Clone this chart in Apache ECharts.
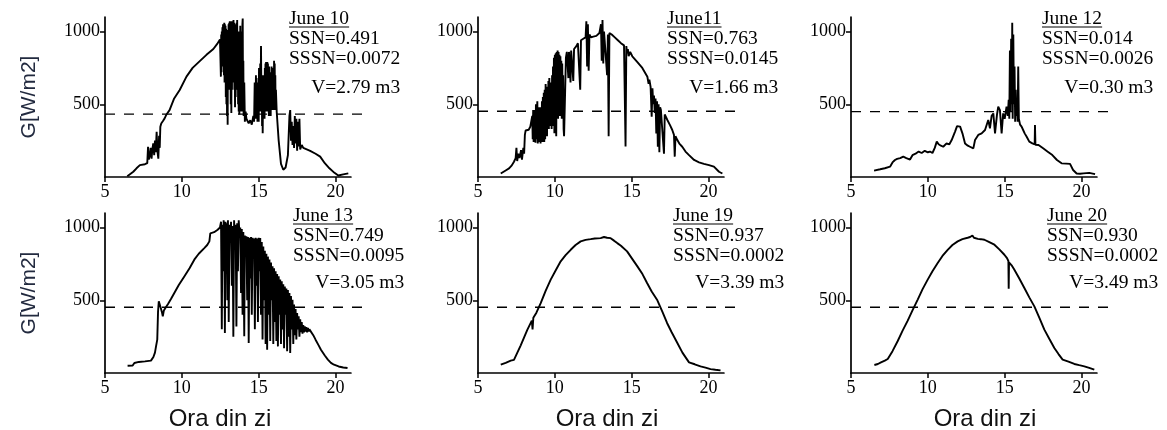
<!DOCTYPE html>
<html><head><meta charset="utf-8">
<script src="https://cdn.jsdelivr.net/npm/echarts@6/dist/echarts.min.js"></script>
<style>html,body{margin:0;padding:0;background:#fff}#c{width:1167px;height:430px}</style>
</head><body><div id="c"></div>
<script>
// ---------------- DATA ----------------
const dates = ['June 10', 'June11', 'June 12', 'June 13', 'June 19', 'June 20'];
const ssnText = ['SSN=0.491', 'SSN=0.763', 'SSN=0.014', 'SSN=0.749', 'SSN=0.937', 'SSN=0.930'];
const sssnText = ['SSSN=0.0072', 'SSSN=0.0145', 'SSSN=0.0026', 'SSSN=0.0095', 'SSSN=0.0002', 'SSSN=0.0002'];
const volText = ['V=2.79 m3', 'V=1.66 m3', 'V=0.30 m3', 'V=3.05 m3', 'V=3.39 m3', 'V=3.49 m3'];
const xTicks = [5, 10, 15, 20];
const yTicks = [500, 1000];
const xName = 'Ora din zi';
const yName = 'G[W/m2]';
const thresholds = [432, 452, 450, 452, 452, 452];

const june10 = [[6.45,5],[6.52,14],[6.84,36],[7.05,60],[7.27,82],[7.6,88],[7.75,95],[7.8,208],[7.85,120],[7.92,150],[7.97,200],[8.03,126],[8.08,190],[8.14,231],[8.2,150],[8.25,250],[8.3,170],[8.36,311],[8.41,180],[8.47,126],[8.52,283],[8.56,200],[8.6,345],[8.66,368],[8.77,385],[8.88,403],[9.0,430],[9.2,460],[9.5,540],[9.86,598],[10.3,690],[10.7,750],[11.2,800],[11.6,840],[12.05,880],[12.3,915],[12.48,945],
[12.52,950],[12.54,690],[12.56,980],[12.58,720],[12.6,1000],[12.62,760],[12.64,1030],[12.66,800],[12.68,1050],[12.7,820],[12.72,1040],[12.74,700],[12.76,1060],[12.78,650],[12.8,1050],[12.82,700],[12.84,1040],[12.86,550],[12.88,1020],[12.9,500],[12.92,1010],[12.94,420],[12.96,1000],[12.98,360],[13.0,990],[13.02,600],[13.04,1050],[13.06,600],[13.08,1060],[13.1,700],[13.12,1070],[13.14,750],[13.16,1060],[13.18,500],[13.2,1070],[13.22,440],[13.24,1000],[13.26,600],[13.28,1040],[13.3,650],[13.32,1070],[13.34,700],[13.36,1080],[13.38,800],[13.4,1060],[13.42,600],[13.44,1050],[13.46,480],[13.48,1000],[13.5,550],[13.52,950],[13.54,700],[13.56,1060],[13.58,650],[13.6,1080],[13.62,600],[13.64,1000],[13.66,500],[13.68,950],[13.7,450],[13.72,900],[13.74,430],[13.76,1000],[13.78,480],[13.8,1040],[13.82,500],[13.84,950],[13.86,450],[13.88,850],[13.9,1000],[13.92,450],[13.94,1050],[13.96,1090],[13.98,500],[14.0,800],[14.02,420],[14.06,650],[14.1,380],[14.15,450],[14.2,400],
[14.25,400],[14.35,370],[14.45,390],[14.55,360],[14.65,420],[14.7,380],[14.72,380],[14.74,650],[14.76,420],[14.78,600],[14.8,400],[14.82,700],[14.84,450],[14.86,680],[14.88,400],[14.9,620],[14.92,380],[14.94,600],[14.96,420],[14.98,650],[15.0,380],[15.02,750],[15.04,450],[15.06,700],[15.08,500],[15.1,780],[15.12,450],[15.15,900],[15.18,500],[15.2,700],[15.22,350],[15.24,650],[15.26,300],[15.28,600],[15.3,420],[15.32,700],[15.34,450],[15.36,650],[15.38,400],[15.4,750],[15.42,500],[15.44,780],[15.46,450],[15.48,790],[15.5,500],[15.52,780],[15.54,550],[15.56,790],[15.58,450],[15.6,780],[15.62,500],[15.64,700],[15.66,420],[15.68,760],[15.7,550],[15.72,720],[15.74,500],[15.76,700],[15.78,420],[15.8,680],[15.82,460],[15.84,760],[15.86,500],[15.88,720],[15.9,460],[15.92,700],[15.94,480],[15.96,750],[15.98,460],[16.0,800],[16.02,480],[16.04,780],[16.06,500],[16.08,700],[16.1,460],[16.12,600],[16.17,450],
[16.3,250],[16.45,90],[16.6,50],[16.75,65],[16.9,150],[17.0,420],[17.05,460],[17.1,250],[17.15,380],[17.2,220],[17.25,350],[17.3,200],[17.35,420],[17.4,230],[17.45,400],[17.5,180],[17.55,380],[17.6,210],[17.65,400],[17.7,190],[17.8,220],[17.9,200],[18.0,200],[18.35,180],[18.7,160],[19.0,140],[19.3,95],[19.6,60],[19.86,35],[20.18,10],[20.5,18],[20.83,25]];

const june11 = [[6.48,24],[6.8,45],[7.02,59],[7.2,80],[7.34,105],[7.45,130],[7.5,200],[7.55,110],[7.62,160],[7.7,130],[7.8,185],[7.86,120],[7.95,200],[8.0,160],[8.05,290],[8.1,320],[8.2,330],[8.3,325],[8.4,345],[8.5,335],
[8.53,420],[8.56,260],[8.59,460],[8.62,240],[8.65,430],[8.68,250],[8.71,460],[8.74,235],[8.77,500],[8.8,260],[8.83,430],[8.86,520],[8.89,230],[8.92,450],[8.95,260],[8.98,480],[9.01,240],[9.04,420],[9.07,230],[9.1,480],[9.13,260],[9.16,520],[9.19,240],[9.22,550],[9.25,250],[9.28,580],[9.31,240],[9.34,600],[9.37,260],[9.4,640],[9.43,300],[9.46,560],[9.49,280],[9.52,620],[9.55,350],[9.58,660],[9.61,330],[9.64,680],[9.67,380],[9.7,600],[9.73,350],[9.76,650],[9.79,330],[9.82,700],[9.85,400],[9.88,760],[9.91,350],[9.94,820],[9.97,300],[10.0,840],[10.03,400],[10.06,850],[10.09,280],[10.12,860],[10.15,450],[10.18,870],[10.21,400],[10.24,860],[10.27,500],[10.3,840],[10.33,420],[10.36,830],[10.39,480],[10.42,800],[10.45,400],[10.48,780],[10.51,460],[10.54,700],[10.57,330],[10.6,280],[10.64,290],
[10.72,820],[10.78,860],[10.84,870],[10.88,680],[10.92,860],[10.98,870],[11.02,650],[11.06,870],[11.15,880],[11.2,660],[11.25,880],[11.4,900],[11.5,920],[11.6,930],[11.65,600],[11.7,940],[11.85,950],[12.0,960],[12.05,1070],[12.1,760],[12.15,1050],[12.2,730],[12.25,980],[12.35,960],[12.5,965],[12.7,970],[12.9,990],[13.0,1050],[13.05,800],[13.1,1080],[13.15,780],[13.2,1000],[13.3,990],[13.4,700],[13.45,980],[13.5,280],[13.55,990],[13.7,980],[13.9,960],[14.1,940],[14.3,920],[14.5,905],[14.6,210],[14.65,900],[14.7,850],[14.75,880],[14.8,830],[14.9,860],[15.04,830],[15.37,790],[15.69,750],[16.02,689],[16.1,640],[16.15,670],[16.23,620],[16.3,414],[16.35,610],[16.4,500],[16.45,560],[16.5,440],[16.55,540],[16.6,300],[16.65,520],[16.7,208],[16.75,500],[16.8,170],[16.85,480],[16.9,460],[16.99,460],[17.1,160],[17.15,430],[17.32,392],[17.5,355],[17.64,323],[17.75,290],[17.8,140],[17.85,280],[17.97,254],[18.1,230],[18.29,208],[18.5,175],[18.73,150],[19.06,117],[19.38,101],[19.7,90],[20.03,82],[20.35,71],[20.68,36],[20.9,24]];

const june12 = [[6.5,44],[6.9,53],[7.2,60],[7.54,71],[7.7,100],[7.86,117],[8.0,125],[8.2,130],[8.4,140],[8.6,130],[8.84,120],[9.0,150],[9.2,160],[9.4,175],[9.6,165],[9.8,180],[10.0,170],[10.14,175],[10.3,165],[10.45,200],[10.58,243],[10.7,225],[10.85,215],[11.0,208],[11.2,230],[11.4,225],[11.55,254],[11.77,312],[11.9,350],[11.98,357],[12.1,346],[12.25,300],[12.42,231],[12.6,215],[12.74,208],[12.96,197],[13.07,254],[13.28,289],[13.5,300],[13.72,323],[13.93,392],[14.04,335],[14.15,420],[14.26,437],[14.37,300],[14.5,430],[14.58,483],[14.69,460],[14.8,300],[14.9,437],[15.0,400],[15.12,483],[15.2,420],[15.26,530],[15.3,400],[15.34,870],[15.38,450],[15.42,950],[15.46,500],[15.49,1060],[15.52,400],[15.56,980],[15.6,500],[15.64,760],[15.68,380],[15.72,600],[15.76,420],[15.8,540],[15.84,380],[15.88,760],[15.92,400],[16.0,360],[16.1,346],[16.2,323],[16.3,300],[16.43,277],[16.6,243],[16.8,231],[16.95,225],[16.97,357],[17.0,222],[17.2,220],[17.5,197],[17.8,174],[18.1,151],[18.4,117],[18.7,94],[19.0,92],[19.25,90],[19.45,48],[19.68,24],[19.9,22],[20.12,25],[20.5,28],[20.88,20]];

const june13 = [[6.47,50],[6.8,52],[6.91,69],[7.2,76],[7.6,80],[7.99,85],[8.15,110],[8.25,140],[8.32,183],[8.4,229],[8.45,420],[8.5,493],[8.56,480],[8.62,450],[8.7,420],[8.76,389],[8.83,430],[8.95,450],[9.1,475],[9.3,510],[9.51,550],[9.8,605],[10.16,664],[10.5,720],[10.81,779],[11.1,820],[11.46,859],[11.65,880],[11.79,905],[11.85,960],[12.1,968],[12.33,985],[12.48,1000],
[12.55,1040],[12.6,300],[12.64,1020],[12.68,700],[12.72,1050],[12.76,980],[12.8,275],[12.84,1040],[12.88,950],[12.92,1030],[12.96,500],[13.0,1050],[13.05,350],[13.1,1020],[13.15,900],[13.2,1040],[13.25,600],[13.3,1010],[13.35,250],[13.4,1050],[13.45,850],[13.5,1020],[13.55,320],[13.6,1030],[13.65,700],[13.7,1050],[13.75,950],[13.8,1000],[13.85,550],[13.9,990],[13.95,400],[14.0,970],[14.06,252],[14.1,945],[14.15,800],[14.2,940],[14.25,500],[14.3,935],[14.35,206],[14.4,930],[14.45,650],[14.5,935],[14.55,400],[14.6,930],[14.65,800],[14.7,925],[14.75,300],[14.8,930],[14.85,600],[14.9,925],[14.95,350],[15.0,930],[15.05,700],[15.1,928],[15.15,400],[15.2,900],[15.25,230],[15.3,870],[15.35,500],[15.4,840],[15.45,200],[15.5,820],[15.55,160],[15.6,800],[15.65,400],[15.7,780],[15.75,220],[15.8,760],[15.85,500],[15.9,733],[15.95,200],[16.0,720],[16.05,350],[16.1,700],[16.15,220],[16.2,680],[16.25,183],[16.3,665],[16.35,400],[16.4,642],[16.45,200],[16.5,630],[16.55,300],[16.6,610],[16.65,170],[16.7,595],[16.75,400],[16.8,580],[16.85,150],[16.9,570],[16.95,250],[17.0,550],[17.05,137],[17.1,530],[17.15,300],[17.2,504],[17.25,200],[17.3,470],[17.35,260],[17.4,440],[17.45,230],[17.5,412],[17.55,300],[17.6,390],[17.65,250],[17.7,370],[17.75,280],[17.8,350],[17.85,270],[17.9,330],[17.95,280],[18.0,320],[18.05,285],[18.1,315],[18.15,280],[18.2,310],[18.25,285],[18.3,300],[18.4,289],[18.55,260],[18.7,229],[18.9,190],[19.05,160],[19.3,120],[19.5,92],[19.7,70],[19.9,57],[20.2,45],[20.5,38],[20.78,34]];

const june19 = [[6.48,57],[6.8,70],[7.13,85],[7.34,90],[7.56,140],[7.78,190],[8.0,245],[8.2,295],[8.43,345],[8.5,360],[8.55,300],[8.6,380],[8.8,415],[9.08,480],[9.4,565],[9.73,642],[10.05,705],[10.38,768],[10.7,810],[11.03,847],[11.35,880],[11.68,905],[12.0,915],[12.33,920],[12.6,925],[12.98,927],[13.2,935],[13.4,930],[13.5,940],[13.63,927],[13.85,910],[14.06,893],[14.3,875],[14.7,836],[15.0,790],[15.37,733],[15.7,680],[16.0,619],[16.3,560],[16.67,500],[17.0,420],[17.3,344],[17.6,280],[17.97,206],[18.3,140],[18.73,73],[19.1,60],[19.48,46],[19.8,37],[20.13,27],[20.45,22],[20.78,18]];

const june20 = [[6.52,55],[6.75,62],[6.95,73],[7.2,85],[7.39,96],[7.7,150],[8.04,220],[8.35,290],[8.69,360],[9.0,430],[9.34,505],[9.65,575],[9.99,642],[10.3,700],[10.64,756],[10.95,805],[11.29,847],[11.6,880],[11.94,905],[12.25,920],[12.59,930],[12.75,935],[12.9,945],[13.0,930],[13.1,940],[13.25,922],[13.45,920],[13.68,916],[14.0,900],[14.33,882],[14.65,850],[14.98,813],[15.15,790],[15.24,770],[15.26,580],[15.28,760],[15.45,740],[15.63,710],[15.95,650],[16.28,584],[16.6,520],[16.93,458],[17.25,380],[17.58,298],[17.9,235],[18.23,172],[18.5,130],[18.77,92],[19.15,78],[19.53,62],[19.85,54],[20.18,46],[20.5,35],[20.83,23]];

// ---------------- LAYOUT ----------------
const panels = [june10, june11, june12, june13, june19, june20];
const colLeft = [105, 478, 851];
const rowTop = [17, 213];
const pxPerHour = 15.37;
const plotH = 160;
const xMin = 5, xMax = 21, yMin = 0, yMax = 1100, dashEnd = 22.1;
const serif = '"Liberation Serif", "Times New Roman", serif';
const sans = '"Liberation Sans", Arial, sans-serif';
const annoFont = 19.5;
const annoLeft = [289, 667, 1042, 293, 673, 1047];
const annoRowY = [[19, 39, 59, 88], [216, 236, 256, 283]];
const xNameX = [220, 607, 985];
const xNameY = 419;

const measureCtx = document.createElement('canvas').getContext('2d');
function textW(t, size, fam) { measureCtx.font = size + 'px ' + fam; return measureCtx.measureText(t).width; }
const plain = v => String(v);

const grid = [], xAxis = [], yAxis = [], series = [], graphic = [];
for (let i = 0; i < 6; i++) {
  const col = i % 3, row = Math.floor(i / 3);
  grid.push({left: colLeft[col], top: rowTop[row], width: (xMax - xMin) * pxPerHour, height: plotH});
  xAxis.push({
    gridIndex: i, type: 'value', min: xMin, max: xMax,
    axisLine: {show: true, onZero: false, lineStyle: {color: '#000', width: 1.7}},
    axisTick: {show: true, customValues: xTicks, length: 5, lineStyle: {color: '#000', width: 1.5}},
    axisLabel: {customValues: xTicks, formatter: plain, color: '#000', fontFamily: serif, fontSize: 18, margin: 6},
    splitLine: {show: false}
  });
  const ya = {
    gridIndex: i, type: 'value', min: yMin, max: yMax,
    axisLine: {show: true, onZero: false, lineStyle: {color: '#000', width: 1.7}},
    axisTick: {show: true, customValues: yTicks, length: 5, lineStyle: {color: '#000', width: 1.5}},
    axisLabel: {customValues: yTicks, formatter: plain, color: '#000', fontFamily: serif, fontSize: 18, margin: 5},
    splitLine: {show: false}
  };
  if (col === 0) {
    ya.name = yName; ya.nameLocation = 'middle'; ya.nameRotate = 90; ya.nameGap = 65;
    ya.nameTextStyle = {fontFamily: sans, fontSize: 21, color: '#222a3f'};
  }
  yAxis.push(ya);
  series.push({
    type: 'line', xAxisIndex: i, yAxisIndex: i, data: panels[i], showSymbol: false,
    lineStyle: {color: '#000', width: 1.9}, sampling: null, animation: false, silent: true
  });
}
for (let i = 0; i < 6; i++) {
  const col = i % 3, row = Math.floor(i / 3);
  const gi = 6 + i;
  grid.push({left: colLeft[col], top: rowTop[row], width: (dashEnd - xMin) * pxPerHour, height: plotH});
  xAxis.push({gridIndex: gi, type: 'value', min: xMin, max: dashEnd, show: false});
  yAxis.push({gridIndex: gi, type: 'value', min: yMin, max: yMax, show: false});
  series.push({
    type: 'line', xAxisIndex: gi, yAxisIndex: gi, showSymbol: false, animation: false, silent: true,
    data: [[xMin, thresholds[i]], [dashEnd, thresholds[i]]],
    lineStyle: {color: '#000', width: 1.3, type: [10, 9]}
  });
}
// annotations
for (let i = 0; i < 6; i++) {
  const row = Math.floor(i / 3);
  const ys = annoRowY[row];
  const x0 = annoLeft[i];
  const f = annoFont + 'px ' + serif;
  const lines = [dates[i], ssnText[i], sssnText[i]];
  lines.forEach((t, k) => {
    graphic.push({type: 'text', x: x0, y: ys[k], silent: true,
      style: {text: t, font: f, fill: '#000', textAlign: 'left', textVerticalAlign: 'middle'}});
  });
  const wd = textW(dates[i], annoFont, serif);
  graphic.push({type: 'line', silent: true,
    shape: {x1: x0, y1: ys[0] + 8, x2: x0 + wd, y2: ys[0] + 8},
    style: {stroke: '#000', lineWidth: 1.2}});
  const ws = textW(sssnText[i], annoFont, serif);
  graphic.push({type: 'text', x: x0 + ws, y: ys[3], silent: true,
    style: {text: volText[i], font: f, fill: '#000', textAlign: 'right', textVerticalAlign: 'middle'}});
}
for (let c = 0; c < 3; c++) {
  graphic.push({type: 'text', x: xNameX[c], y: xNameY, silent: true,
    style: {text: xName, font: '24px ' + sans, fill: '#111', textAlign: 'center', textVerticalAlign: 'middle'}});
}

const chart = echarts.init(document.getElementById('c'));
chart.setOption({animation: false, backgroundColor: '#fff', grid, xAxis, yAxis, series, graphic});
</script>
</body></html>
